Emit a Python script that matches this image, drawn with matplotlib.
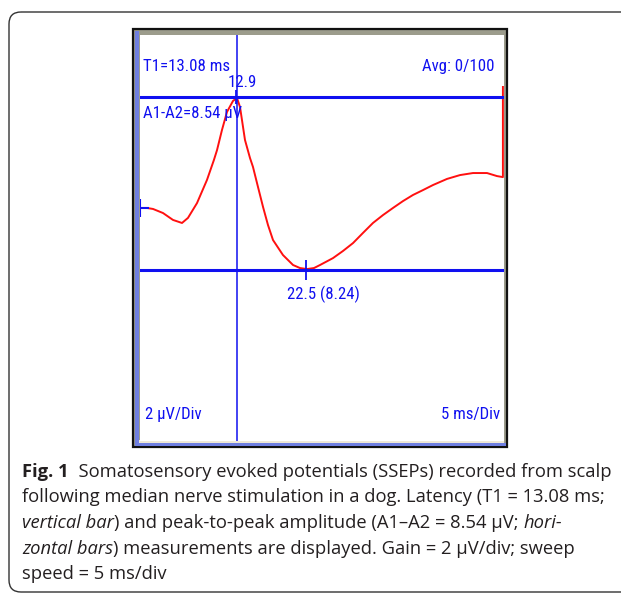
import matplotlib
matplotlib.use('Agg')
import matplotlib.pyplot as plt
from matplotlib import font_manager
from matplotlib.font_manager import FontProperties
from matplotlib.textpath import TextPath
from matplotlib.patches import Rectangle, FancyBboxPatch

# waveform (ms, uV)
t_ms = [-0.16, 0.66, 1.49, 2.86, 4.23, 5.47, 6.29, 7.53, 8.90, 9.85, 10.28, 10.96,
        11.65, 12.47, 13.02, 13.44, 14.12, 14.81, 15.22, 15.91, 16.60, 17.28, 17.97,
        19.34, 20.72, 21.68, 22.64, 23.60, 24.43, 26.21, 27.58, 28.96, 30.33, 31.70,
        33.08, 34.45, 35.83, 37.20, 38.57, 39.95, 41.87, 43.66, 45.44, 47.37, 48.74,
        49.55, 49.55]
v_uv = [11.48, 11.48, 11.43, 11.23, 10.89, 10.74, 10.99, 11.72, 12.86, 13.84, 14.33, 15.32,
        16.21, 16.75, 16.90, 16.45, 14.83, 13.94, 13.50, 12.51, 11.53, 10.64, 9.90,
        9.16, 8.67, 8.52, 8.47, 8.52, 8.67, 9.01, 9.36, 9.75, 10.25, 10.74,
        11.13, 11.48, 11.82, 12.12, 12.36, 12.61, 12.91, 13.10, 13.20, 13.20, 13.05,
        13.00, 17.44]

T1 = 13.08
A2 = 8.42
A1 = A2 + 8.54
peak_t, trough_t = 12.9, 22.5
start_v = 11.48

fm = font_manager.fontManager
names = set(f.name for f in fm.ttflist)
narrow = None
for cand in ['Liberation Sans Narrow', 'Roboto Condensed', 'Open Sans Condensed', 'Noto Sans Condensed']:
    if cand in names:
        narrow = dict(family=cand)
        break
if narrow is None:
    cond = [f for f in fm.ttflist if f.stretch in ('condensed', 'semi-condensed') and f.style == 'normal']
    if cond:
        narrow = dict(family=cond[0].name, stretch=cond[0].stretch)
    else:
        narrow = dict(family='Liberation Sans' if 'Liberation Sans' in names else 'DejaVu Sans')

# size the screen font so "T1=13.08 ms" is ~85 px wide, as on the capture
w10 = TextPath((0, 0), 'T1=13.08 ms', size=10, prop=FontProperties(**narrow)).get_extents().width * 100 / 72
scr_size = min(17, 10 * 85 / w10)

cap_font = 'Open Sans' if 'Open Sans' in names else 'DejaVu Sans'

W, H = 621, 594
fig = plt.figure(figsize=(W / 100, H / 100), dpi=100)

# background canvas in pixel coords (y down)
bg = fig.add_axes([0, 0, 1, 1], zorder=0)
bg.set_xlim(0, W)
bg.set_ylim(H, 0)
bg.axis('off')

bg.add_patch(FancyBboxPatch((9, 12), 660, 580, boxstyle='round,pad=0,rounding_size=12',
                            fc='none', ec='#333333', lw=1.0))
# screen frame
bg.add_patch(Rectangle((133, 29), 374, 418, fc='#9c9c8c', ec='#111111', lw=1.6))
bg.add_patch(Rectangle((134.5, 30.5), 4, 415, fc='#6f7fe0', ec='none'))
bg.add_patch(Rectangle((134.5, 442.5), 371, 3.5, fc='#6f7fe0', ec='none'))
bg.add_patch(Rectangle((139, 440), 365, 2.5, fc='#efe9d8', ec='none'))

ax = fig.add_axes([140 / W, (H - 441) / H, 364 / W, 406 / H], zorder=1)
ax.set_xlim(-0.3, 49.7)
ax.set_ylim(0, 20)
ax.set_xticks([])
ax.set_yticks([])
for s in ax.spines.values():
    s.set_visible(False)
ax.set_facecolor('white')

blue = '#1010f0'
ax.plot(t_ms, v_uv, color='#ff1010', lw=1.4, zorder=2)
ax.axhline(A1, color=blue, lw=2.2, zorder=3)
ax.axhline(A2, color=blue, lw=2.2, zorder=3)
ax.axvline(T1, color=blue, lw=1.1, zorder=3)
ax.plot([trough_t], [A2], marker='+', ms=14, mew=1.3, color=blue, zorder=4)
ax.plot([peak_t], [A1], marker='+', ms=10, mew=1.3, color=blue, zorder=4)
ax.plot([-0.3], [start_v], marker='+', ms=13, mew=1.5, color=blue, zorder=4)

tk = dict(color=blue, fontsize=scr_size, transform=bg.transData, zorder=5, **narrow)
ax.text(143, 71, 'T1=13.08 ms', ha='left', va='baseline', **tk)
ax.text(495, 71, 'Avg: 0/100', ha='right', va='baseline', **tk)
ax.text(228, 87, '12.9', ha='left', va='baseline', **tk)
ax.text(143, 118, 'A1-A2=8.54 µV', ha='left', va='baseline', **tk)
ax.text(323, 299, '22.5 (8.24)', ha='center', va='baseline', **tk)
ax.text(145, 419, '2 µV/Div', ha='left', va='baseline', **tk)
ax.text(500, 419, '5 ms/Div', ha='right', va='baseline', **tk)

# caption
caption = [
    [('Fig. 1', 'normal', 'bold'), ('  Somatosensory evoked potentials (SSEPs) recorded from scalp', 'normal', 'normal')],
    [('following median nerve stimulation in a dog. Latency (T1 = 13.08 ms;', 'normal', 'normal')],
    [('vertical bar', 'italic', 'normal'), (') and peak-to-peak amplitude (A1–A2 = 8.54 µV; ', 'normal', 'normal'),
     ('hori-', 'italic', 'normal')],
    [('zontal bars', 'italic', 'normal'), (') measurements are displayed. Gain = 2 µV/div; sweep', 'normal', 'normal')],
    [('speed = 5 ms/div', 'normal', 'normal')],
]
baselines = [477, 502.5, 528, 553.5, 579]
for line, yb in zip(caption, baselines):
    prev = None
    for txt, style, weight in line:
        kw = dict(fontsize=13.2, family=cap_font, style=style, weight=weight,
                  color='#231f20', va='baseline', ha='left')
        if prev is None:
            prev = fig.text(22 / W, (H - yb) / H, txt, **kw)
        else:
            prev = fig.add_artist(plt.Annotation(txt, xy=(1, H - yb), xycoords=(prev, 'figure pixels'), **kw))

fig.savefig('out.png', dpi=100)
